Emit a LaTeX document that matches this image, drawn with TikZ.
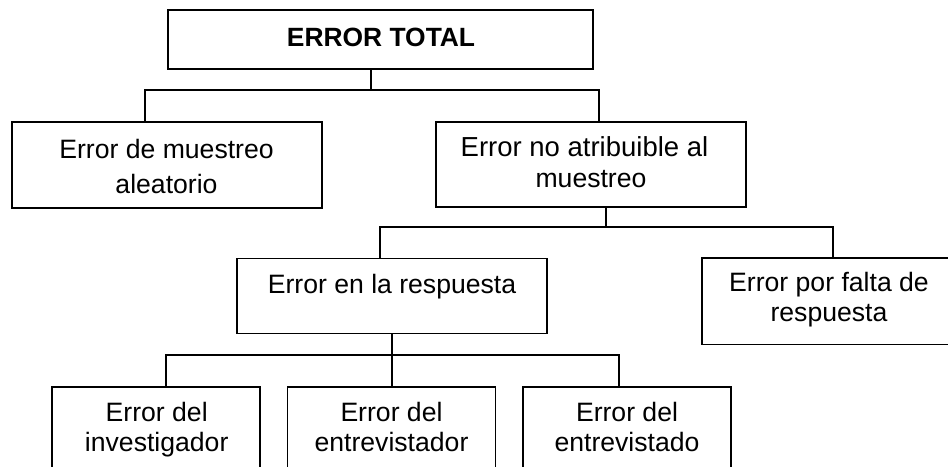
\documentclass[tikz,border=0pt]{standalone}
\usepackage{fontspec}
\setmainfont{Liberation Sans}
\begin{document}
\begin{tikzpicture}[x=1pt,y=-1pt,
  box/.style={draw=black,rectangle,line width=1.9pt,inner sep=0pt,fill=none},
  txt/.style={anchor=base,inner sep=0pt,font=\fontsize{26.6}{30}\selectfont},
  conn/.style={draw=black,line width=1.9pt,line cap=rect}]
\useasboundingbox (0,0) rectangle (948,466);
\clip (0,0) rectangle (948,466);
\fill[white] (0,0) rectangle (948,466);
% boxes
\node[box,minimum width=425pt,minimum height=59pt] (top) at (380.5,39.5) {};
\node[box,minimum width=310pt,minimum height=86pt] (left) at (167,165) {};
\node[box,minimum width=310pt,minimum height=85pt] (nat) at (591,164.5) {};
\node[box,minimum width=310pt,minimum height=75pt] (resp) at (392,296) {};
\node[box,minimum width=278pt,minimum height=86.5pt] (falta) at (840.8,301.2) {};
\node[box,minimum width=208pt,minimum height=113pt] (b1) at (156.3,443.3) {};
\node[box,minimum width=208pt,minimum height=113pt] (b2) at (391.5,443.3) {};
\node[box,minimum width=208pt,minimum height=113pt] (b3) at (627,443.3) {};
% texts
\node[txt,font=\fontsize{26.4}{30}\selectfont\bfseries] (ttop) at (381,46.7) {ERROR TOTAL};
\node[txt] (tl1) at (166.5,158.3) {Error de muestreo};
\node[txt] (tl2) at (166.5,193.3) {aleatorio};
\node[txt,font=\fontsize{27.5}{30}\selectfont] (tn1) at (584.5,156.7) {Error no atribuible al};
\node[txt] (tn2) at (591,187.7) {muestreo};
\node[txt] (tr1) at (392,293) {Error en la respuesta};
\node[txt] (tf1) at (829,291.7) {Error por falta de};
\node[txt] (tf2) at (829,321.7) {respuesta};
\node[txt] (tb1a) at (156.7,421.7) {Error del};
\node[txt] (tb1b) at (156.7,451.7) {investigador};
\node[txt] (tb2a) at (391.5,421.7) {Error del};
\node[txt] (tb2b) at (391.5,451.7) {entrevistador};
\node[txt] (tb3a) at (627,421.7) {Error del};
\node[txt] (tb3b) at (627,451.7) {entrevistado};
% junctions
\coordinate (j1) at (371,90);
\coordinate (j1l) at (145,90);
\coordinate (j1r) at (599,90);
\coordinate (j2) at (605.7,227.3);
\coordinate (j2l) at (380,227.3);
\coordinate (j2r) at (833.3,227.3);
\coordinate (j3) at (391.7,355);
\coordinate (j3l) at (166,355);
\coordinate (j3r) at (619,355);
% connectors
\draw[conn] (j1 |- top.south) -- (j1);
\draw[conn] (j1l |- left.north) -- (j1l) -- (j1r) -- (j1r |- nat.north);
\draw[conn] (j2 |- nat.south) -- (j2);
\draw[conn] (j2l |- resp.north) -- (j2l) -- (j2r) -- (j2r |- falta.north);
\draw[conn] (j3 |- resp.south) -- (j3 |- b2.north);
\draw[conn] (j3l |- b1.north) -- (j3l) -- (j3r) -- (j3r |- b3.north);
\end{tikzpicture}
\end{document}
